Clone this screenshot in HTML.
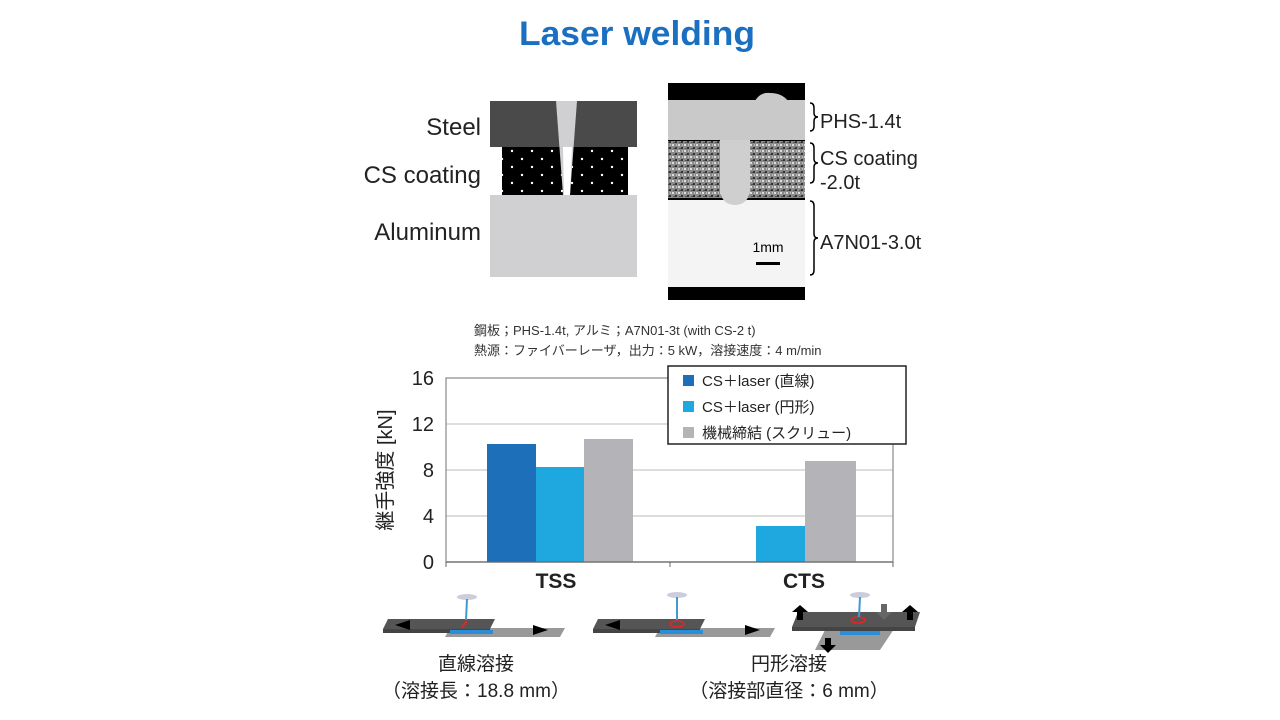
<!DOCTYPE html>
<html><head><meta charset="utf-8"><style>
html,body{margin:0;padding:0;background:#fff;}
svg{display:block}
text{font-family:"Liberation Sans","Noto Sans CJK JP",sans-serif;}
</style></head><body>
<svg width="1280" height="720" viewBox="0 0 1280 720" xmlns="http://www.w3.org/2000/svg">
<defs>
<pattern id="dots" x="502" y="147" width="20" height="16" patternUnits="userSpaceOnUse">
<rect width="20" height="16" fill="#000"/><circle cx="10" cy="4" r="1.2" fill="#fff"/><circle cx="0" cy="12" r="1.2" fill="#fff"/><circle cx="20" cy="12" r="1.2" fill="#fff"/>
</pattern>
<pattern id="noise" width="6" height="6" patternUnits="userSpaceOnUse">
<rect width="6" height="6" fill="#8a8a8a"/><rect x="0" y="0" width="2" height="2" fill="#ddd"/><rect x="3" y="3" width="2" height="2" fill="#333"/><rect x="4" y="0" width="1" height="2" fill="#bbb"/><rect x="1" y="4" width="2" height="1" fill="#555"/>
</pattern>
</defs>
<text x="637" y="45" text-anchor="middle" font-size="34" font-weight="bold" fill="#1a6fc0" textLength="236" lengthAdjust="spacingAndGlyphs">Laser welding</text>

<!-- schematic -->
<rect x="490" y="101" width="147" height="46" fill="#4a4a4a"/>
<rect x="502" y="147" width="126" height="48" fill="url(#dots)"/>
<rect x="490" y="195" width="147" height="82" fill="#d0d0d2"/>
<polygon points="556,101 577,101 570,195 563,195" fill="#d0d0d2"/>
<polygon points="563,147 572,147 570,195 564,195" fill="#fff"/>
<text x="481" y="135" text-anchor="end" font-size="24" fill="#222">Steel</text>
<text x="481" y="183" text-anchor="end" font-size="24" fill="#222">CS coating</text>
<text x="481" y="240" text-anchor="end" font-size="24" fill="#222">Aluminum</text>

<!-- micrograph -->
<rect x="668" y="83" width="137" height="217" fill="#000"/>
<rect x="668" y="100" width="137" height="40" fill="#c9c9c9"/>
<path d="M755,101 Q760,92 770,93 Q782,93 788,101 Z" fill="#c9c9c9"/>
<rect x="668" y="141" width="137" height="57" fill="url(#noise)"/>
<rect x="668" y="200" width="137" height="87" fill="#f4f4f4"/>
<path d="M720,140 L750,140 L750,192 Q747,205 735,205 Q723,205 720,192 Z" fill="#cfcfcf"/>
<rect x="756" y="262" width="24" height="3" fill="#000"/>
<text x="768" y="252" text-anchor="middle" font-size="14" fill="#000">1mm</text>
<path d="M810,103 q4,0 4,5 v5 q0,4 4,4 q-4,0 -4,4 v5 q0,5 -4,5" fill="none" stroke="#000" stroke-width="1.5"/>
<path d="M810,143 q4,0 4,5 v11 q0,4 4,4 q-4,0 -4,4 v11 q0,5 -4,5" fill="none" stroke="#000" stroke-width="1.5"/>
<path d="M810,201 q4,0 4,5 v28 q0,4 4,4 q-4,0 -4,4 v28 q0,5 -4,5" fill="none" stroke="#000" stroke-width="1.5"/>
<text x="820" y="128" font-size="20" fill="#222">PHS-1.4t</text>
<text x="820" y="165" font-size="20" fill="#222">CS coating</text>
<text x="820" y="189" font-size="20" fill="#222">-2.0t</text>
<text x="820" y="249" font-size="20" fill="#222">A7N01-3.0t</text>

<!-- notes -->
<text x="474" y="335" font-size="13" fill="#333">鋼板；PHS-1.4t, アルミ；A7N01-3t (with CS-2 t)</text>
<text x="474" y="355" font-size="13" fill="#333">熱源：ファイバーレーザ，出力：5 kW，溶接速度：4 m/min</text>

<!-- chart -->
<g stroke="#bbb" stroke-width="1">
<line x1="446" y1="424" x2="893" y2="424"/><line x1="446" y1="470" x2="893" y2="470"/><line x1="446" y1="516" x2="893" y2="516"/>
</g>
<rect x="446" y="378" width="447" height="184" fill="none" stroke="#888" stroke-width="1.2"/>
<rect x="487" y="444" width="49" height="118" fill="#1c6fb8"/>
<rect x="536" y="467" width="48" height="95" fill="#1fa7e0"/>
<rect x="584" y="439" width="49" height="123" fill="#b4b4b8"/>
<rect x="756" y="526" width="49" height="36" fill="#1fa7e0"/>
<rect x="805" y="461" width="51" height="101" fill="#b4b4b8"/>
<line x1="446" y1="562" x2="893" y2="562" stroke="#666" stroke-width="1.2"/>
<line x1="670" y1="562" x2="670" y2="567" stroke="#666"/>
<line x1="893" y1="562" x2="893" y2="567" stroke="#666"/>
<line x1="446" y1="562" x2="446" y2="567" stroke="#666"/>
<g font-size="20" fill="#222" text-anchor="end">
<text x="434" y="385">16</text><text x="434" y="431">12</text><text x="434" y="477">8</text><text x="434" y="523">4</text><text x="434" y="569">0</text>
</g>
<text x="392" y="470" font-size="20" fill="#222" text-anchor="middle" transform="rotate(-90 392 470)">継手強度 [kN]</text>
<text x="556" y="588" font-size="21" font-weight="bold" fill="#222" text-anchor="middle">TSS</text>
<text x="804" y="588" font-size="21" font-weight="bold" fill="#222" text-anchor="middle">CTS</text>
<rect x="668" y="366" width="238" height="78" fill="#fff" stroke="#222" stroke-width="1.5"/>
<rect x="683" y="375" width="11" height="11" fill="#1c6fb8"/>
<rect x="683" y="401" width="11" height="11" fill="#1fa7e0"/>
<rect x="683" y="427" width="11" height="11" fill="#b4b4b8"/>
<text x="702" y="386" font-size="15" fill="#222">CS＋laser (直線)</text>
<text x="702" y="412" font-size="15" fill="#222">CS＋laser (円形)</text>
<text x="702" y="438" font-size="15" fill="#222">機械締結 (スクリュー)</text>

<!-- specimens -->
<g>
<polygon points="450,628 565,628 560,637 445,637" fill="#999"/>
<polygon points="388,619 495,619 490,629 383,629" fill="#555"/>
<rect x="383" y="629" width="107" height="4" fill="#444"/>
<rect x="450" y="630" width="43" height="4" fill="#2a8fd8"/>
<line x1="462" y1="627" x2="467" y2="621" stroke="#e22" stroke-width="2"/>
<ellipse cx="467" cy="597" rx="10" ry="3" fill="#ccd"/><line x1="467" y1="599" x2="466" y2="620" stroke="#49c" stroke-width="2"/>
<polygon points="395,625 410,620 410,630" fill="#000"/><polygon points="548,630 533,625 533,635" fill="#000"/>

<polygon points="660,628 775,628 770,637 655,637" fill="#999"/>
<polygon points="598,619 705,619 700,629 593,629" fill="#555"/>
<rect x="593" y="629" width="107" height="4" fill="#444"/>
<rect x="660" y="630" width="43" height="4" fill="#2a8fd8"/>
<ellipse cx="677" cy="624" rx="7" ry="3" fill="none" stroke="#e22" stroke-width="1.5"/>
<ellipse cx="677" cy="595" rx="10" ry="3" fill="#ccd"/><line x1="677" y1="597" x2="677" y2="620" stroke="#49c" stroke-width="2"/>
<polygon points="605,625 620,620 620,630" fill="#000"/><polygon points="760,630 745,625 745,635" fill="#000"/>

<polygon points="830,620 900,620 880,650 815,650" fill="#999"/>
<polygon points="798,612 920,612 915,627 792,627" fill="#555"/>
<rect x="792" y="627" width="123" height="4" fill="#444"/>
<rect x="840" y="631" width="40" height="4" fill="#2a8fd8"/>
<ellipse cx="858" cy="620" rx="7" ry="3" fill="none" stroke="#e22" stroke-width="1.5"/>
<ellipse cx="860" cy="595" rx="10" ry="3" fill="#ccd"/><line x1="860" y1="597" x2="859" y2="617" stroke="#49c" stroke-width="2"/>
<polygon points="800,605 808,612 792,612" fill="#000"/><rect x="797" y="612" width="6" height="8" fill="#000"/>
<polygon points="910,605 918,612 902,612" fill="#000"/><rect x="907" y="612" width="6" height="8" fill="#000"/>
<polygon points="884,620 892,612 876,612" fill="#666"/><rect x="881" y="604" width="6" height="8" fill="#666"/>
<polygon points="828,653 836,645 820,645" fill="#000"/><rect x="825" y="638" width="6" height="8" fill="#000"/>
</g>
<text x="476" y="670" font-size="19" fill="#222" text-anchor="middle">直線溶接</text>
<text x="476" y="697" font-size="19" fill="#222" text-anchor="middle">（溶接長：18.8 mm）</text>
<text x="789" y="670" font-size="19" fill="#222" text-anchor="middle">円形溶接</text>
<text x="789" y="697" font-size="19" fill="#222" text-anchor="middle">（溶接部直径：6 mm）</text>
</svg>
</body></html>
